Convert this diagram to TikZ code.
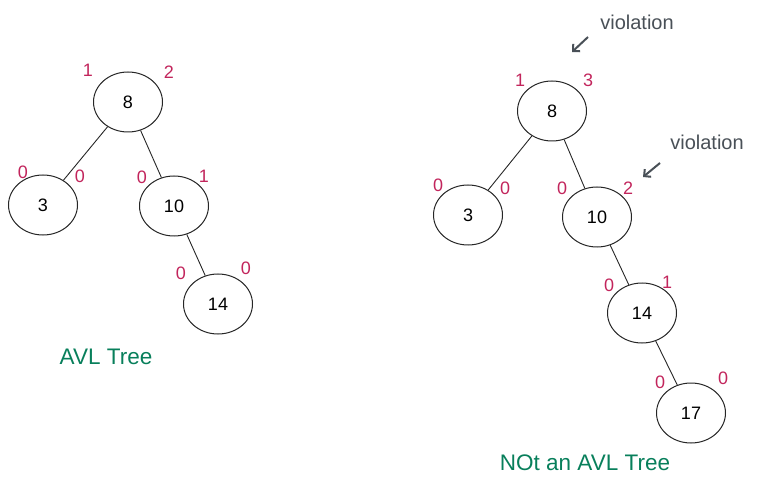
\documentclass[tikz,border=0pt]{standalone}
\usepackage{fontspec}
\setmainfont{Liberation Sans}
\usetikzlibrary{shapes.geometric,arrows.meta}
\definecolor{hred}{HTML}{C2255C}
\definecolor{hgreen}{HTML}{087F5B}
\definecolor{hgray}{HTML}{495057}
\tikzset{
  tnode/.style={draw=black!85, ellipse, line width=1pt, minimum width=69pt, minimum height=60pt, inner sep=0pt, font=\fontsize{18}{18}\selectfont},
  hval/.style={text=hred, font=\fontsize{18}{18}\selectfont, inner sep=0pt},
  tedge/.style={draw=black!85, line width=0.9pt},
  note/.style={text=hgray, font=\fontsize{20}{20}\selectfont, inner sep=0pt},
  notearrow/.style={draw=hgray, line width=2pt, -{Straight Barb[length=5pt,width=10pt]}},
  caption/.style={text=hgreen, font=\fontsize{22.5}{22.5}\selectfont, inner sep=0pt}
}
\begin{document}
\begin{tikzpicture}[x=1pt,y=-1pt]
\useasboundingbox (0,0) rectangle (757,486);
% left tree
\node[tnode] (a8) at (128,102) {8};
\node[tnode] (a3) at (43,205) {3};
\node[tnode] (a10) at (174,206) {10};
\node[tnode] (a14) at (218,304) {14};
\draw[tedge] (a8) -- (a3);
\draw[tedge] (a8) -- (a10);
\draw[tedge] (a10) -- (a14);
\node[hval] (a8l) at (88,70) {1};
\node[hval] (a8r) at (169,72) {2};
\node[hval] (a3l) at (23,172) {0};
\node[hval] (a3r) at (80,176) {0};
\node[hval] (a10l) at (142,177) {0};
\node[hval] (a10r) at (204,176) {1};
\node[hval] (a14l) at (181,273) {0};
\node[hval] (a14r) at (246,268) {0};
\node[caption] (capA) at (106,357) {AVL Tree};
% right tree
\node[tnode] (b8) at (552,111) {8};
\node[tnode] (b3) at (468,215) {3};
\node[tnode] (b10) at (597,217) {10};
\node[tnode] (b14) at (642,313) {14};
\node[tnode] (b17) at (691,413) {17};
\draw[tedge] (b8) -- (b3);
\draw[tedge] (b8) -- (b10);
\draw[tedge] (b10) -- (b14);
\draw[tedge] (b14) -- (b17);
\node[hval] (b8l) at (520,80) {1};
\node[hval] (b8r) at (588,80) {3};
\node[hval] (b3l) at (438,185) {0};
\node[hval] (b3r) at (505,188) {0};
\node[hval] (b10l) at (562,188) {0};
\node[hval] (b10r) at (628,188) {2};
\node[hval] (b14l) at (609,285) {0};
\node[hval] (b14r) at (667,282) {1};
\node[hval] (b17l) at (660,382) {0};
\node[hval] (b17r) at (723,378) {0};
\node[note] (v1) at (637,22) {violation};
\node[note] (v2) at (707,142) {violation};
\coordinate (v1s) at (588,37);
\coordinate (v1e) at (572,52);
\coordinate (v2s) at (660,163);
\coordinate (v2e) at (643,177);
\draw[notearrow] (v1s) -- (v1e);
\draw[notearrow] (v2s) -- (v2e);
\node[caption] (capB) at (585,463) {NOt an AVL Tree};
\end{tikzpicture}
\end{document}
